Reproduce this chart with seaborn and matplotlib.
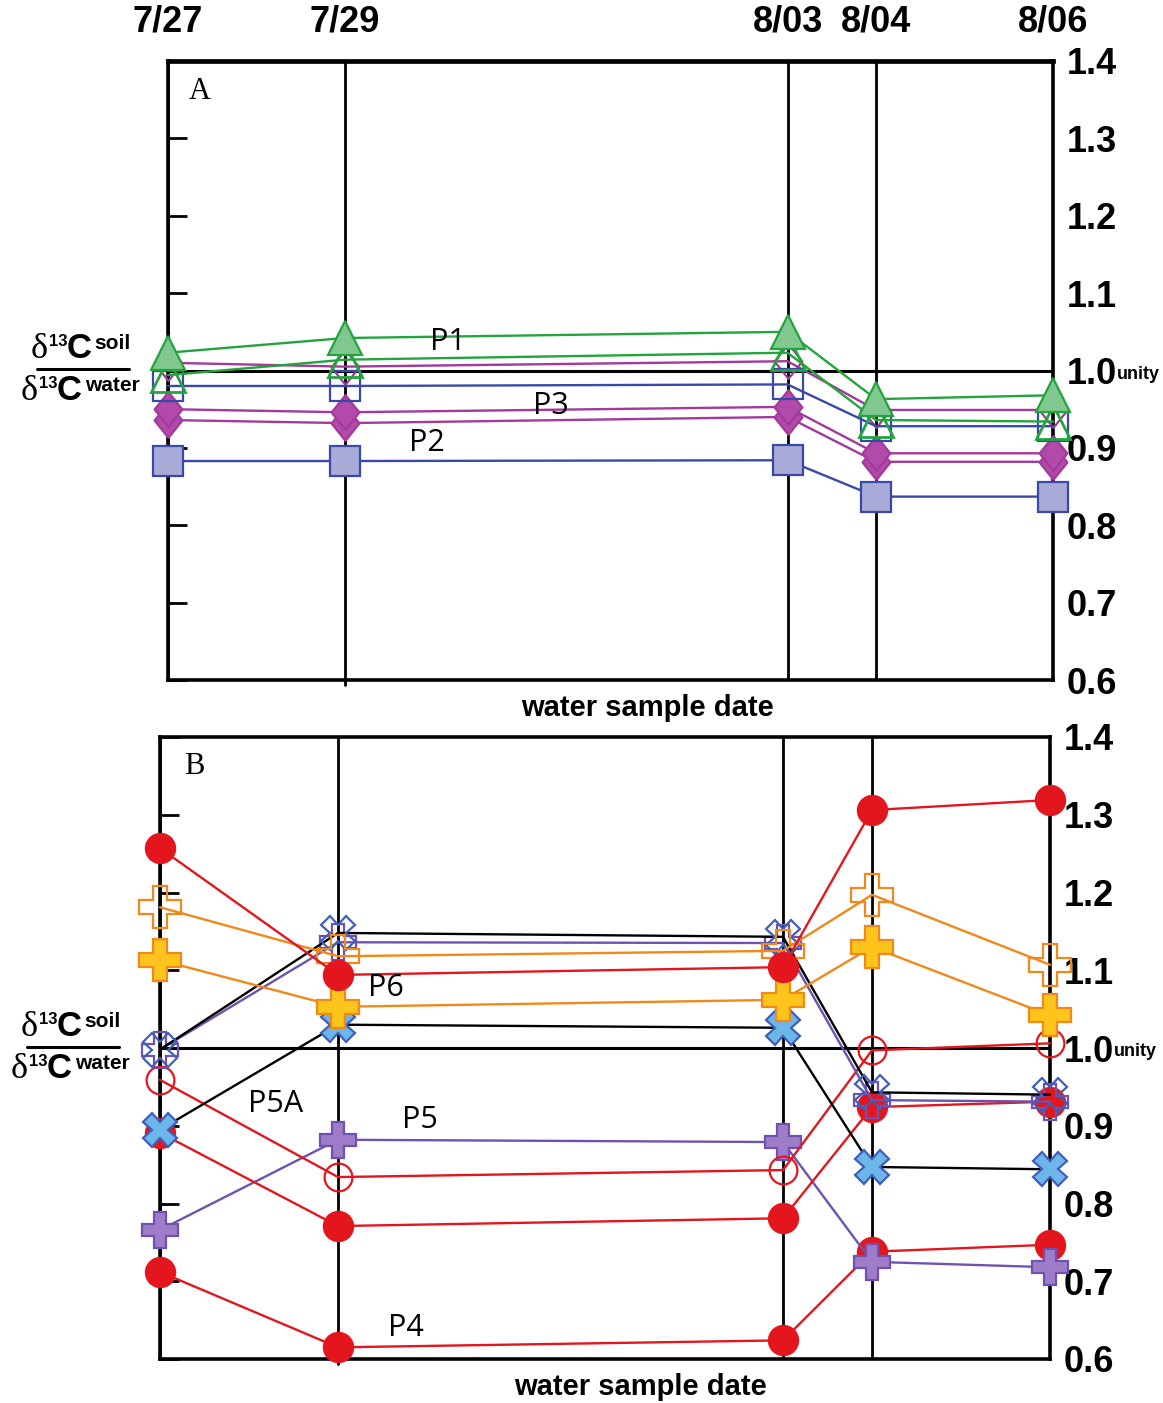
import numpy as np
import pandas as pd
import matplotlib
matplotlib.use("Agg")
from matplotlib import pyplot as plt
from matplotlib.path import Path
import seaborn as sns

# sample dates and the ratio series
dates = ["7/27", "7/29", "8/03", "8/04", "8/06"]

# panel A
a_p1_filled = [1.023, 1.042, 1.050, 0.963, 0.968]
a_p1_open = [0.994, 1.014, 1.023, 0.936, 0.934]
a_mag_open = [1.010, 1.005, 1.012, 0.949, 0.949]
a_p3_open = [0.980, 0.980, 0.982, 0.928, 0.928]
a_mag_filled_1 = [0.950, 0.946, 0.953, 0.893, 0.893]
a_mag_filled_2 = [0.936, 0.932, 0.940, 0.882, 0.882]
a_p2_filled = [0.883, 0.883, 0.884, 0.837, 0.837]

# panel B
b_p6 = [1.257, 1.094, 1.104, 1.306, 1.319]
b_orange_open = [1.181, 1.118, 1.125, 1.197, 1.107]
b_orange_filled = [1.113, 1.053, 1.062, 1.130, 1.042]
b_x_open = [0.998, 1.148, 1.143, 0.943, 0.940]
b_plus_open = [0.998, 1.136, 1.135, 0.933, 0.931]
b_p5a = [0.895, 1.030, 1.026, 0.847, 0.844]
b_red_open = [0.959, 0.834, 0.843, 0.997, 1.006]
b_red_mid = [0.891, 0.771, 0.781, 0.924, 0.931]
b_p5 = [0.766, 0.882, 0.879, 0.725, 0.718]
b_p4 = [0.712, 0.615, 0.624, 0.738, 0.747]

y_ticks = [0.6, 0.7, 0.8, 0.9, 1.0, 1.1, 1.2, 1.3, 1.4]

sns.set_style("white")
plt.rcParams["font.family"] = ["Liberation Sans", "DejaVu Sans"]
for k in ("text.color", "axes.labelcolor", "xtick.color", "ytick.color"):
    plt.rcParams[k] = "black"
narrow = ["Liberation Sans Narrow", "Liberation Sans", "DejaVu Sans"]
serif = ["Liberation Serif", "DejaVu Serif"]

days = (pd.to_datetime(["2000/" + d for d in dates]) - pd.Timestamp("2000-07-27")).days.values

W, H = 1163, 1403
fig = plt.figure(figsize=(W / 100, H / 100), dpi=100)
axA = fig.add_axes([168 / W, 1 - 680 / H, 885 / W, 619 / H])
axB = fig.add_axes([160 / W, 1 - 1359 / H, 890 / W, 622 / H])

diamond = Path([(0, 1), (0.8, 0), (0, -1), (-0.8, 0), (0, 1)], closed=True)

green, green_f = "#23a43c", "#80c88f"
blue, blue_f = "#3a48aa", "#a9abd8"
mag, mag_f = "#a4399c", "#b14aa8"
red = "#e3161d"
orange, orange_f = "#f0881a", "#fdc41c"
xblue, xblue_f = "#3f5fba", "#6cb6ea"
purple, purple_f = "#6e52b2", "#9f7cc8"


def draw(ax, vals, line, marker, ms, face, edge, mew=1.6):
    sns.lineplot(x=days, y=vals, ax=ax, color=line, lw=1.7, marker=marker,
                 markersize=ms, markerfacecolor=face, markeredgecolor=edge,
                 markeredgewidth=mew, clip_on=False, zorder=3)


draw(axA, a_p2_filled, blue, "s", 22, blue_f, blue)
draw(axA, a_mag_filled_2, mag, diamond, 25, mag_f, mag)
draw(axA, a_mag_filled_1, mag, diamond, 25, mag_f, mag)
draw(axA, a_mag_open, mag, diamond, 25, "none", mag)
draw(axA, a_p3_open, blue, "s", 22, "none", blue)
draw(axA, a_p1_open, green, "^", 24, "none", green, 2.0)
draw(axA, a_p1_filled, green, "^", 24, green_f, green)

draw(axB, b_p4, red, "o", 21, red, red)
draw(axB, b_p5, purple, "P", 26, purple_f, purple)
draw(axB, b_red_mid, red, "o", 21, red, red)
draw(axB, b_red_open, red, "o", 20, "none", red)
draw(axB, b_p5a, "black", "X", 24, xblue_f, xblue)
draw(axB, b_plus_open, purple, "P", 26, "none", purple)
draw(axB, b_x_open, "black", "X", 24, "none", xblue)
draw(axB, b_orange_filled, orange, "P", 30, orange_f, orange)
draw(axB, b_orange_open, orange, "P", 30, "none", orange)
draw(axB, b_p6, red, "o", 21, red, red)

for ax in (axA, axB):
    ax.set_xlim(0, 10)
    ax.set_ylim(0.6, 1.4)
    for d in days:
        ax.axvline(d, color="black", lw=2, zorder=2)
    ax.axvline(days[1], ymin=-0.008, ymax=0, color="black", lw=2, clip_on=False)
    ax.axhline(1.0, color="black", lw=2.2, zorder=2)
    for s in ax.spines.values():
        s.set_color("black")
        s.set_linewidth(2.6)
    ax.set_yticks(y_ticks)
    ax.set_yticklabels(["%.1f" % v for v in y_ticks])
    ax.tick_params(axis="y", direction="in", length=14, width=2, color="black",
                   left=True, right=False, labelleft=False, labelright=True,
                   pad=10, labelsize=26)
    for lab in ax.get_yticklabels():
        lab.set_fontfamily(narrow)
        lab.set_fontweight("bold")
    ax.set_xticks(days)
    ax.set_ylabel("")
    ax.text(1.072, 0.995, "unity", transform=ax.get_yaxis_transform(),
            fontsize=13, fontweight="bold", ha="left", va="center")
    ax.set_xlabel("water sample date", fontsize=21, fontweight="bold")

axA.spines["top"].set_linewidth(3.4)

axA.set_xticklabels(dates)
axA.tick_params(axis="x", top=False, bottom=False, labeltop=True,
                labelbottom=False, pad=12, labelsize=26)
for lab in axA.get_xticklabels():
    lab.set_fontfamily(narrow)
    lab.set_fontweight("bold")
axB.tick_params(axis="x", top=False, bottom=False, labeltop=False, labelbottom=False)

axA.xaxis.set_label_coords(0.542, -0.022)
axB.xaxis.set_label_coords(0.540, -0.022)

axA.text(0.036, 0.950, "A", transform=axA.transAxes, fontsize=22,
         family=serif, ha="center", va="center")
axB.text(0.039, 0.953, "B", transform=axB.transAxes, fontsize=22,
         family=serif, ha="center", va="center")

# series labels
lab_kw = dict(fontsize=22, family=["Open Sans", "DejaVu Sans"], ha="center", va="center")
axA.text(3.16, 1.037, "P1", **lab_kw)
axA.text(4.33, 0.954, "P3", **lab_kw)
axA.text(2.93, 0.906, "P2", **lab_kw)
axB.text(2.54, 1.077, "P6", **lab_kw)
axB.text(1.30, 0.928, "P5A", **lab_kw)
axB.text(2.92, 0.907, "P5", **lab_kw)
axB.text(2.76, 0.640, "P4", **lab_kw)


# fraction-style y label, placed in pixels
def put(x, y, s, **kw):
    fig.text(x / W, 1 - y / H, s, va="baseline", ha="left", **kw)


for dx, dy in ((0, 0), (-10, 678)):
    put(31 + dx, 358 + dy, "\u03b4", fontsize=26, family=serif)
    put(49 + dx, 346 + dy, "13", fontsize=12, fontweight="bold")
    put(67 + dx, 358 + dy, "C", fontsize=25, fontweight="bold")
    put(94 + dx, 349 + dy, "soil", fontsize=15, fontweight="bold")
    put(21 + dx, 400 + dy, "\u03b4", fontsize=26, family=serif)
    put(39 + dx, 388 + dy, "13", fontsize=12, fontweight="bold")
    put(57 + dx, 400 + dy, "C", fontsize=25, fontweight="bold")
    put(85 + dx, 391 + dy, "water", fontsize=15, fontweight="bold")
    fig.add_artist(plt.Line2D([(37 + dx) / W, (129 + dx) / W],
                              [1 - (369 + dy) / H, 1 - (369 + dy) / H],
                              color="black", lw=2.2))

fig.savefig("out.png", dpi=100)
